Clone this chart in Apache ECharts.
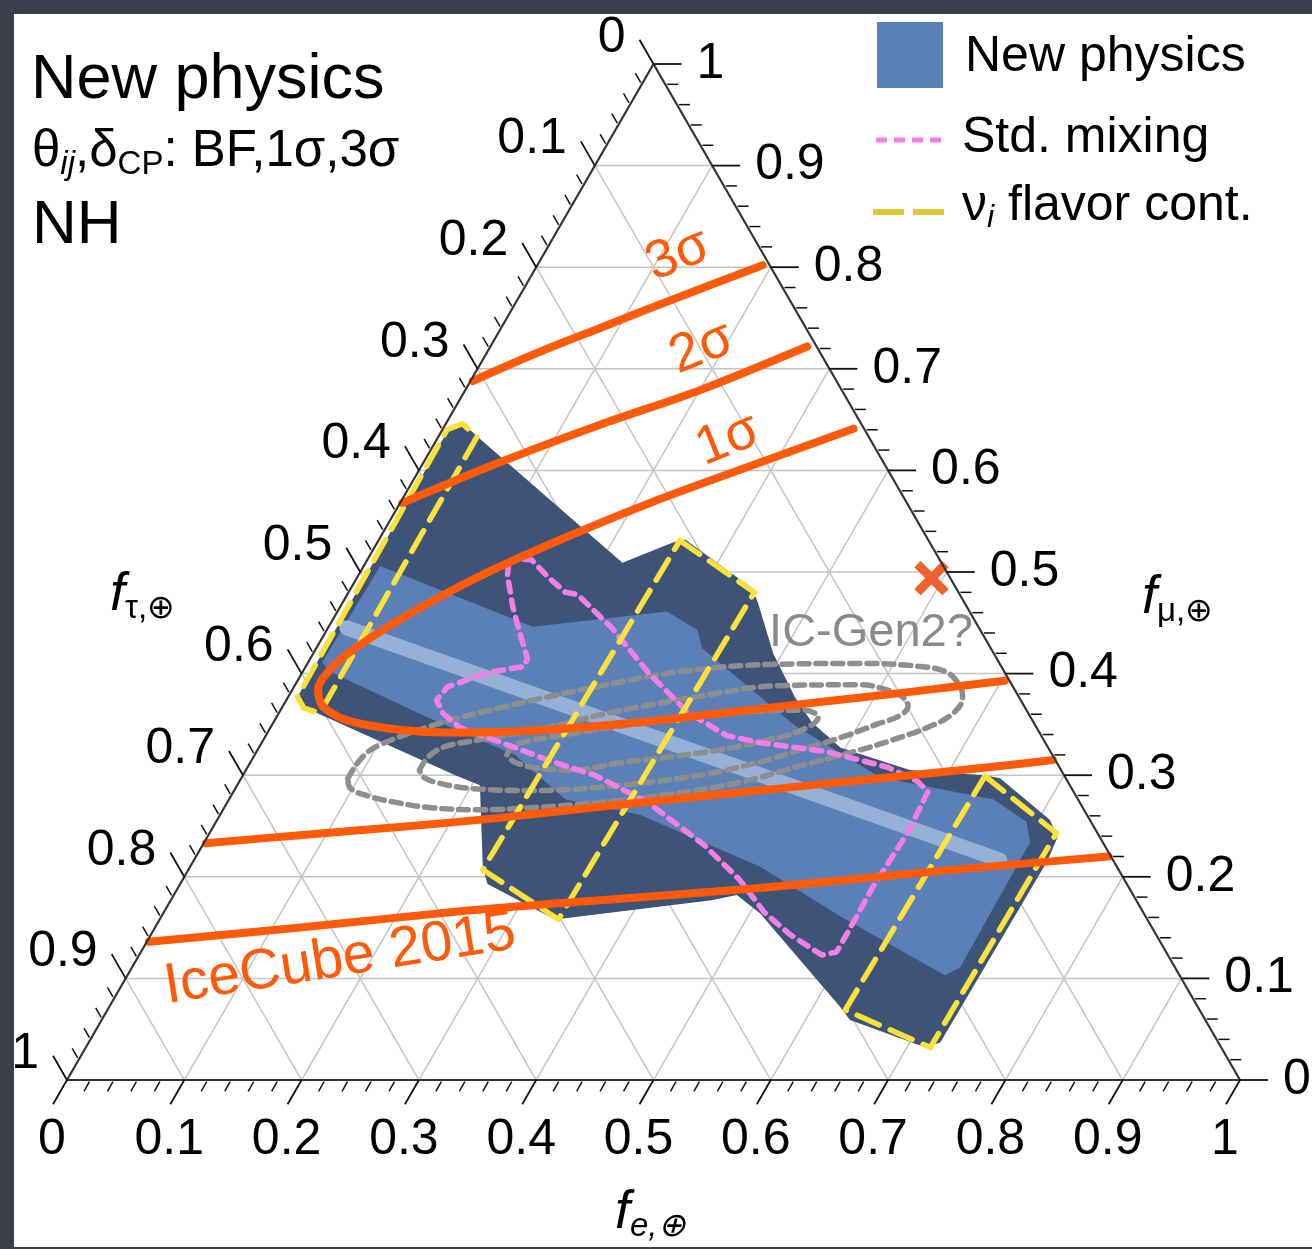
<!DOCTYPE html>
<html><head><meta charset="utf-8">
<script src="https://cdn.jsdelivr.net/npm/echarts@6/dist/echarts.min.js"></script>
<style>html,body{margin:0;padding:0;background:#3b3f4b;}#c{width:1312px;height:1249px;}</style>
</head><body><div id="c"></div><script>
// ---------- data: points are [f_e, f_mu] (f_tau = 1 - f_e - f_mu) ----------
const tickValues = [0,0.1,0.2,0.3,0.4,0.5,0.6,0.7,0.8,0.9,1];
const tickLabels = ['0','0.1','0.2','0.3','0.4','0.5','0.6','0.7','0.8','0.9','1'];
const minorStep = 0.02;

const newPhysicsOuter = [[0.005,0.640],[0.015,0.646],[0.032,0.634],[0.219,0.509],[0.252,0.529],[0.261,0.532],[0.342,0.484],[0.354,0.470],[0.392,0.420],[0.432,0.377],[0.459,0.352],[0.496,0.327],[0.566,0.305],[0.632,0.300],[0.647,0.297],[0.710,0.256],[0.725,0.239],[0.728,0.215],[0.726,0.037],[0.716,0.032],[0.638,0.059],[0.623,0.072],[0.509,0.164],[0.480,0.182],[0.461,0.177],[0.350,0.160],[0.337,0.158],[0.262,0.193],[0.250,0.209],[0.207,0.290],[0.181,0.300],[0.033,0.361],[0.018,0.366],[0.008,0.377]];
const newPhysicsInner = [[0.014,0.506],[0.174,0.446],[0.281,0.461],[0.316,0.443],[0.329,0.425],[0.446,0.349],[0.544,0.298],[0.652,0.276],[0.691,0.254],[0.704,0.234],[0.706,0.111],[0.697,0.103],[0.581,0.160],[0.486,0.210],[0.358,0.261],[0.287,0.276],[0.222,0.320],[0.131,0.356],[0.023,0.402],[0.012,0.411]];
const newPhysicsBestFit = [[0.016,0.445],[0.687,0.2165]];

const stdMixing = [[0.123,0.507],[0.125,0.513],[0.140,0.512],[0.164,0.494],[0.185,0.480],[0.196,0.478],[0.242,0.445],[0.295,0.401],[0.348,0.362],[0.393,0.339],[0.425,0.332],[0.487,0.323],[0.545,0.308],[0.578,0.294],[0.592,0.284],[0.595,0.243],[0.592,0.190],[0.593,0.145],[0.593,0.126],[0.582,0.123],[0.545,0.143],[0.512,0.165],[0.475,0.197],[0.428,0.231],[0.359,0.273],[0.300,0.300],[0.258,0.313],[0.216,0.328],[0.161,0.347],[0.140,0.361],[0.128,0.374],[0.131,0.387],[0.158,0.401],[0.186,0.407],[0.185,0.415],[0.166,0.440],[0.147,0.466],[0.127,0.497],[0.123,0.507]];

const flavorLeft  = [[0.004,0.640],[0.014,0.646],[0.033,0.633],[0.035,0.361],[0.019,0.366],[0.008,0.377],[0.004,0.640]];
const flavorMid   = [[0.257,0.531],[0.346,0.480],[0.340,0.158],[0.251,0.207],[0.257,0.531]];
const flavorRight = [[0.633,0.299],[0.722,0.243],[0.720,0.032],[0.629,0.069],[0.633,0.299]];

const ice1s = [[0.350,0.641],[0.280,0.604],[0.213,0.568],[0.155,0.532],[0.104,0.496],[0.069,0.465],[0.041,0.435],[0.024,0.409],[0.022,0.384],[0.034,0.368],[0.062,0.354],[0.109,0.345],[0.153,0.342],[0.209,0.343],[0.264,0.347],[0.320,0.353],[0.384,0.362],[0.456,0.372],[0.528,0.382],[0.603,0.393]];
const ice2sUpper = [[0.270,0.722],[0.200,0.679],[0.132,0.645],[0.065,0.608],[0.002,0.568]];
const ice2sLower = [[0.002,0.233],[0.078,0.241],[0.159,0.249],[0.240,0.258],[0.320,0.269],[0.400,0.279],[0.480,0.289],[0.561,0.299],[0.641,0.309],[0.683,0.315]];
const ice3sUpper = [[0.192,0.802],[0.137,0.771],[0.084,0.740],[0.042,0.715],[0.002,0.688]];
const ice3sLower = [[0.002,0.136],[0.124,0.150],[0.252,0.166],[0.366,0.177],[0.496,0.189],[0.617,0.203],[0.690,0.211],[0.778,0.220]];

const gen2Outer = [[0.091,0.297],[0.093,0.318],[0.102,0.330],[0.142,0.351],[0.188,0.367],[0.221,0.377],[0.258,0.387],[0.322,0.402],[0.395,0.409],[0.471,0.410],[0.524,0.407],[0.550,0.401],[0.568,0.387],[0.575,0.377],[0.575,0.361],[0.560,0.347],[0.537,0.335],[0.514,0.325],[0.470,0.309],[0.427,0.293],[0.366,0.280],[0.316,0.273],[0.261,0.268],[0.217,0.266],[0.176,0.268],[0.145,0.273],[0.119,0.279],[0.097,0.288],[0.091,0.297]];
const gen2Middle = [[0.148,0.305],[0.149,0.318],[0.158,0.328],[0.185,0.335],[0.236,0.347],[0.284,0.362],[0.361,0.380],[0.411,0.388],[0.482,0.389],[0.507,0.384],[0.524,0.377],[0.533,0.368],[0.531,0.359],[0.515,0.350],[0.493,0.338],[0.463,0.325],[0.434,0.313],[0.390,0.300],[0.308,0.288],[0.252,0.285],[0.200,0.287],[0.172,0.292],[0.155,0.298],[0.148,0.305]];
const gen2Inner = [[0.215,0.320],[0.217,0.330],[0.251,0.339],[0.297,0.348],[0.361,0.358],[0.409,0.363],[0.447,0.364],[0.462,0.357],[0.455,0.345],[0.425,0.333],[0.379,0.322],[0.315,0.312],[0.276,0.305],[0.247,0.307],[0.225,0.313],[0.215,0.320]];

const bfPoint = [0.490,0.494];
const sigmaLabels = ['3σ','2σ','1σ'];
const sigmaLabelPos = [[0.115,0.812],[0.181,0.7205],[0.2485,0.630]];
const iceCubeLabel = 'IceCube 2015';
const iceCubeLabelPos = [0.1737,0.1181];
const gen2Label = 'IC-Gen2?';
const gen2LabelPos = [0.4654,0.440];

// ---------- helpers ----------
const FONT = "'Liberation Sans', Arial, Helvetica, sans-serif";
const ORANGE = '#ff5a0a';
function toXY(p){ return [p[0] + p[1]/2, p[1]]; }

function polygonSeries(pts, color, z){
  return {type:'custom', coordinateSystem:'cartesian2d', silent:true, z:z, clip:false,
    data:[toXY(pts[0])],
    renderItem:function(params, api){
      return {type:'polygon', shape:{points: pts.map(function(p){return api.coord(toXY(p));})}, style:{fill:color}};
    }};
}
function lineSeries(pts, color, width, dash, z, smooth){
  return {type:'line', data: pts.map(toXY), symbol:'none', showSymbol:false, silent:true, smooth: smooth||false,
    lineStyle:{color:color, width:width, type:dash||'solid', cap:'round', join:'round'}, z:z};
}

const chart = echarts.init(document.getElementById('c'), null, {renderer:'canvas'});

const series = [];
// triangular grid
series.push({type:'custom', coordinateSystem:'cartesian2d', silent:true, z:1, clip:false,
  data: tickValues.map(function(v){return [v,0];}),
  renderItem:function(params, api){
    const v = tickValues[params.dataIndex];
    const c = function(p){return api.coord(toXY(p));};
    const children = [];
    if (v > 0 && v < 1){
      [[[v,0],[v,1-v]],[[0,v],[1-v,v]],[[1-v,0],[0,1-v]]].forEach(function(s){
        const a = c(s[0]), b = c(s[1]);
        children.push({type:'line', shape:{x1:a[0],y1:a[1],x2:b[0],y2:b[1]}, style:{stroke:'#c4c4c4', lineWidth:1.5}});
      });
    }
    return {type:'group', children:children};
  }});

series.push(polygonSeries(newPhysicsOuter, '#3d5478', 2));
series.push(polygonSeries(newPhysicsInner, '#5b80b8', 3));
series.push(lineSeries(newPhysicsBestFit, '#97b0d6', 15, 'solid', 4));
series.push(lineSeries(gen2Outer, '#8e8e8e', 5.5, [10,7], 5, 0.4));
series.push(lineSeries(gen2Middle, '#8e8e8e', 5.5, [10,7], 5, 0.4));
series.push(lineSeries(gen2Inner, '#8e8e8e', 5.5, [10,7], 5, 0.4));
series.push(lineSeries(stdMixing, '#f47ee6', 5.5, [10,8], 6, false));
series.push(lineSeries(flavorLeft, '#fbe13a', 5.5, [24,12], 7, false));
series.push(lineSeries(flavorMid, '#fbe13a', 5.5, [24,12], 7, false));
series.push(lineSeries(flavorRight, '#fbe13a', 5.5, [24,12], 7, false));
series.push(lineSeries(ice1s, ORANGE, 8, 'solid', 8, 0.3));
series.push(lineSeries(ice2sUpper, ORANGE, 8, 'solid', 8, 0.3));
series.push(lineSeries(ice2sLower, ORANGE, 8, 'solid', 8, 0.3));
series.push(lineSeries(ice3sUpper, ORANGE, 8, 'solid', 8, 0.3));
series.push(lineSeries(ice3sLower, ORANGE, 8, 'solid', 8, 0.3));

// best-fit cross
series.push({type:'custom', coordinateSystem:'cartesian2d', silent:true, z:9, clip:false,
  data:[toXY(bfPoint)],
  renderItem:function(params, api){
    const p = api.coord([api.value(0), api.value(1)]);
    const h = 14;
    return {type:'group', children:[
      {type:'line', shape:{x1:p[0]-h,y1:p[1]-h,x2:p[0]+h,y2:p[1]+h}, style:{stroke:'#f0602a', lineWidth:9}},
      {type:'line', shape:{x1:p[0]-h,y1:p[1]+h,x2:p[0]+h,y2:p[1]-h}, style:{stroke:'#f0602a', lineWidth:9}}
    ]};
  }});

// annotations (text anchored at data positions)
const annTexts = sigmaLabels.concat([iceCubeLabel, gen2Label]);
const annPos = sigmaLabelPos.concat([iceCubeLabelPos, gen2LabelPos]);
const annRot = [22,22,22,9,0];
const annSize = [54,54,54,57,47];
const annColor = [ORANGE,ORANGE,ORANGE,ORANGE,'#8a8a8a'];
series.push({type:'custom', coordinateSystem:'cartesian2d', silent:true, z:10, clip:false,
  data: annPos.map(toXY),
  renderItem:function(params, api){
    const i = params.dataIndex;
    const p = api.coord([api.value(0), api.value(1)]);
    return {type:'text', x:p[0], y:p[1], rotation: annRot[i]*Math.PI/180,
      style:{text:annTexts[i], fontSize:annSize[i], fontFamily:FONT, fill:annColor[i], align:'center', verticalAlign:'middle'}};
  }});

// axes: frame, ticks, labels
series.push({type:'custom', coordinateSystem:'cartesian2d', silent:true, z:11, clip:false,
  data: tickValues.map(function(v){return [v,0];}),
  renderItem:function(params, api){
    const i = params.dataIndex, v = tickValues[i];
    const c = function(p){return api.coord(toXY(p));};
    const children = [];
    if (i === 0){
      const A = c([0,0]), B = c([1,0]), T = c([0,1]);
      [[A,B],[B,T],[T,A]].forEach(function(s){
        children.push({type:'line', shape:{x1:s[0][0],y1:s[0][1],x2:s[1][0],y2:s[1][1]}, style:{stroke:'#333', lineWidth:2.2}});
      });
    }
    const axes = [
      {pt:function(u){return [u,0];},   dir:[-0.5,0.866],  lab:[-15,60],  align:'center'},
      {pt:function(u){return [1-u,u];}, dir:[1,0],         lab:[43,0],    align:'left'},
      {pt:function(u){return [0,1-u];}, dir:[-0.5,-0.866], lab:[-28,-26], align:'right'}
    ];
    axes.forEach(function(ax){
      const p = c(ax.pt(v));
      children.push({type:'line', shape:{x1:p[0],y1:p[1],x2:p[0]+ax.dir[0]*28,y2:p[1]+ax.dir[1]*28}, style:{stroke:'#111', lineWidth:1.8}});
      children.push({type:'text', x:p[0]+ax.lab[0], y:p[1]+ax.lab[1], style:{text:tickLabels[i], fontSize:50, fontFamily:FONT, fill:'#000', align:ax.align, verticalAlign:'middle'}});
      if (v < 1){
        for (let k = 1; k < 5; k++){
          const q = c(ax.pt(v + k*minorStep));
          children.push({type:'line', shape:{x1:q[0]+ax.dir[0]*2,y1:q[1]+ax.dir[1]*2,x2:q[0]+ax.dir[0]*13,y2:q[1]+ax.dir[1]*13}, style:{stroke:'#111', lineWidth:1.5}});
        }
      }
    });
    return {type:'group', children:children};
  }});

function richAxis(main, sub, subItalic){
  return {text:'{a|'+main+'}{b|'+sub+'}', verticalAlign:'middle',
    rich:{a:{fontSize:54, fontStyle:'italic', fontFamily:FONT, fill:'#000', lineHeight:60},
          b:{fontSize:33, fontStyle: subItalic?'italic':'normal', fontFamily:FONT, fill:'#000', lineHeight:26, verticalAlign:'bottom'}}};
}

chart.setOption({
  animation:false,
  backgroundColor:'#3b3f4b',
  grid:{left:67, top:64, width:1173, height:1016},
  xAxis:{type:'value', min:0, max:1, show:false},
  yAxis:{type:'value', min:0, max:1, show:false},
  graphic:[
    {type:'rect', z:-10, silent:true, shape:{x:14,y:14,width:1298,height:1233}, style:{fill:'#ffffff'}},
    {type:'text', z:100, x:31, y:81, style:{text:'New physics', fontSize:63, fontFamily:FONT, fill:'#000', verticalAlign:'middle'}},
    {type:'text', z:100, x:32, y:152, style:{text:'{m|θ}{s|ij}{m|,δ}{c|CP}{m|: BF,1σ,3σ}', verticalAlign:'middle',
      rich:{m:{fontSize:51, fontFamily:FONT, fill:'#000', lineHeight:58},
            s:{fontSize:33, fontStyle:'italic', fontFamily:FONT, fill:'#000', lineHeight:38, verticalAlign:'bottom'},
            c:{fontSize:33, fontFamily:FONT, fill:'#000', lineHeight:40, verticalAlign:'bottom'}}}},
    {type:'text', z:100, x:32, y:226, style:{text:'NH', fontSize:62, fontFamily:FONT, fill:'#000', verticalAlign:'middle'}},
    // legend
    {type:'rect', z:100, shape:{x:877,y:22,width:66,height:66}, style:{fill:'#5b80b8'}},
    {type:'text', z:100, x:965, y:57, style:{text:'New physics', fontSize:50, fontFamily:FONT, fill:'#000', verticalAlign:'middle'}},
    {type:'line', z:100, shape:{x1:876,y1:140,x2:944,y2:140}, style:{stroke:'#f47ee6', lineWidth:5, lineDash:[11,7]}},
    {type:'text', z:100, x:962, y:138, style:{text:'Std. mixing', fontSize:50, fontFamily:FONT, fill:'#000', verticalAlign:'middle'}},
    {type:'line', z:100, shape:{x1:873,y1:212,x2:944,y2:212}, style:{stroke:'#e2c635', lineWidth:6, lineDash:[31,9]}},
    {type:'text', z:100, x:962, y:206, style:{text:'{m|ν}{s|i}{m| flavor cont.}', verticalAlign:'middle',
      rich:{m:{fontSize:50, fontFamily:FONT, fill:'#000', lineHeight:56},
            s:{fontSize:32, fontStyle:'italic', fontFamily:FONT, fill:'#000', lineHeight:36, verticalAlign:'bottom'}}}},
    // axis titles
    {type:'text', z:100, x:110, y:595, style:richAxis('f','τ,⊕',false)},
    {type:'text', z:100, x:1142, y:598, style:richAxis('f','μ,⊕',false)},
    {type:'text', z:100, x:615, y:1213, style:richAxis('f','e,⊕',true)}
  ],
  series: series
});
</script></body></html>
